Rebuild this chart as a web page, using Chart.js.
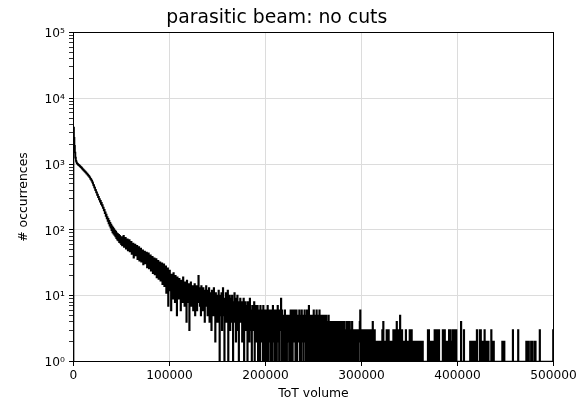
<!DOCTYPE html>
<html>
<head>
<meta charset="utf-8">
<script src="https://cdn.jsdelivr.net/npm/chart.js@4.4.1/dist/chart.umd.min.js"></script>
<style>
  html, body { margin: 0; padding: 0; background: #fff; }
  canvas { display: block; }
</style>
</head>
<body>
<canvas id="totHisto" width="582" height="403"></canvas>
<script>
// Histograma "parasitic beam: no cuts" - contagens por bin de ToT volume
// bins de 500 (0 .. 500000), lidos do gráfico em blocos de 100 bins (50000 cada)
const binWidth = 500;

const counts000k = [3600, 2500, 1900, 1500, 1250, 1120, 1060, 1030, 1010, 990,
  975, 962, 948, 933, 918, 897, 889, 866, 853, 832,
  823, 801, 797, 774, 768, 746, 744, 719, 716, 693,
  688, 661, 659, 632, 626, 598, 594, 566, 559, 534,
  515, 484, 476, 443, 438, 405, 402, 371, 372, 341,
  343, 315, 318, 290, 295, 268, 276, 249, 258, 234,
  238, 216, 219, 197, 201, 180, 185, 163, 171, 149,
  157, 137, 147, 126, 137, 116, 128, 108, 120, 99,
  113, 92, 108, 88, 103, 84, 98, 80, 94, 75,
  89, 71, 86, 69, 84, 65, 81, 64, 78, 61];
const counts050k = [78, 58, 74, 62, 81, 55, 69, 60, 76, 52,
  67, 57, 72, 49, 64, 55, 70, 47, 61, 53,
  66, 43, 58, 50, 62, 38, 55, 46, 60, 41,
  53, 44, 57, 36, 50, 42, 55, 34, 48, 40,
  52, 33, 45, 38, 49, 30, 43, 37, 47, 31,
  42, 33, 45, 27, 40, 34, 44, 26, 38, 31,
  41, 24, 36, 30, 39, 22, 35, 28, 37, 21,
  33, 26, 36, 19, 31, 25, 34, 18, 29, 24,
  32, 17, 28, 23, 31, 15, 27, 21, 30, 14,
  26, 19, 28, 11, 24, 18, 26, 7, 22, 16];
const counts100k = [24, 12, 19, 6, 21, 14, 18, 9, 22, 13,
  17, 8, 20, 12, 15, 5, 19, 11, 16, 9,
  18, 10, 14, 6, 17, 12, 15, 8, 19, 10,
  13, 7, 16, 11, 14, 4, 17, 9, 12, 8,
  15, 3, 13, 10, 16, 7, 12, 9, 14, 6,
  13, 9, 15, 5, 12, 10, 14, 6, 11, 8,
  20, 9, 13, 7, 12, 5, 14, 8, 11, 6,
  13, 8, 10, 4, 12, 7, 14, 9, 11, 5,
  12, 7, 13, 4, 10, 8, 11, 3, 12, 6,
  10, 5, 13, 7, 9, 2, 11, 6, 10, 4];
const counts150k = [9, 4, 12, 6, 0, 10, 5, 8, 11, 3,
  7, 13, 5, 9, 1, 8, 6, 11, 4, 9,
  6, 12, 0, 8, 5, 10, 3, 7, 9, 4,
  10, 6, 1, 8, 4, 11, 5, 7, 2, 9,
  6, 10, 3, 8, 0, 7, 5, 9, 4, 6,
  8, 2, 7, 5, 9, 1, 6, 4, 8, 3,
  7, 5, 0, 8, 4, 6, 2, 9, 3, 6,
  5, 1, 7, 4, 6, 3, 8, 0, 5, 7,
  2, 6, 4, 7, 1, 5, 3, 6, 0, 7,
  4, 6, 2, 5, 1, 7, 3, 0, 6, 4];
const counts200k = [6, 1, 5, 3, 7, 0, 4, 6, 2, 5,
  1, 6, 3, 5, 0, 7, 2, 4, 6, 1,
  5, 3, 6, 0, 4, 7, 2, 5, 1, 6,
  3, 5, 9, 1, 6, 2, 4, 0, 5, 3,
  6, 1, 4, 5, 0, 3, 5, 2, 4, 1,
  5, 2, 6, 0, 4, 6, 1, 5, 3, 6,
  2, 6, 1, 4, 6, 0, 3, 5, 2, 4,
  6, 1, 5, 3, 0, 6, 2, 4, 5, 1,
  4, 6, 2, 5, 1, 3, 6, 0, 4, 2,
  7, 1, 5, 3, 5, 0, 4, 2, 5, 1];
const counts250k = [6, 2, 4, 0, 5, 3, 6, 1, 4, 2,
  5, 0, 6, 3, 1, 5, 2, 4, 0, 5,
  3, 1, 4, 5, 2, 0, 5, 3, 1, 4,
  2, 5, 0, 3, 4, 1, 3, 2, 4, 0,
  3, 1, 4, 2, 0, 4, 3, 1, 2, 4,
  0, 3, 2, 4, 1, 3, 0, 4, 2, 1,
  4, 2, 3, 0, 4, 1, 3, 2, 0, 4,
  1, 3, 4, 0, 2, 4, 1, 3, 2, 0,
  4, 2, 1, 3, 0, 3, 2, 1, 3, 0,
  2, 3, 1, 0, 3, 2, 4, 6, 1, 3];
const counts300k = [1, 3, 0, 2, 3, 1, 3, 0, 2, 3,
  1, 2, 3, 0, 3, 1, 2, 3, 0, 2,
  3, 1, 2, 4, 0, 3, 1, 3, 2, 0,
  2, 1, 2, 0, 2, 1, 2, 0, 1, 2,
  0, 2, 1, 3, 0, 4, 1, 2, 0, 2,
  1, 2, 3, 0, 2, 1, 3, 0, 2, 1,
  2, 0, 2, 1, 2, 0, 3, 1, 2, 0,
  3, 1, 2, 4, 0, 3, 1, 3, 0, 2,
  5, 1, 2, 0, 3, 1, 2, 0, 2, 1,
  2, 0, 3, 1, 2, 0, 1, 2, 0, 2];
const counts350k = [3, 1, 3, 0, 3, 2, 0, 2, 1, 2,
  0, 2, 1, 2, 0, 2, 1, 2, 0, 2,
  1, 2, 0, 2, 1, 2, 0, 2, 1, 0,
  1, 0, 1, 1, 0, 1, 0, 1, 3, 1,
  3, 0, 2, 1, 2, 0, 2, 1, 2, 0,
  2, 1, 3, 0, 3, 1, 3, 0, 2, 3,
  1, 3, 0, 1, 0, 1, 1, 0, 1, 3,
  0, 3, 1, 3, 2, 0, 2, 1, 2, 0,
  2, 1, 3, 0, 3, 2, 1, 2, 0, 3,
  1, 3, 0, 3, 2, 3, 1, 3, 0, 1];
const counts400k = [1, 0, 1, 1, 0, 1, 0, 4, 1, 0,
  1, 0, 1, 3, 0, 1, 1, 0, 1, 0,
  1, 1, 0, 1, 0, 1, 2, 0, 2, 1,
  2, 0, 2, 1, 2, 0, 2, 1, 2, 0,
  3, 0, 1, 0, 1, 1, 3, 0, 3, 1,
  2, 0, 2, 1, 2, 0, 3, 1, 2, 0,
  2, 1, 2, 0, 2, 1, 0, 1, 0, 1,
  3, 2, 0, 2, 1, 2, 0, 1, 0, 1,
  1, 0, 1, 0, 1, 1, 0, 1, 0, 1,
  1, 0, 1, 2, 0, 2, 1, 2, 0, 1];
const counts450k = [0, 1, 0, 1, 1, 0, 1, 0, 1, 0,
  1, 1, 0, 1, 0, 3, 0, 1, 0, 1,
  1, 0, 1, 0, 1, 1, 3, 0, 1, 0,
  1, 0, 1, 1, 0, 1, 0, 1, 1, 0,
  1, 0, 1, 2, 0, 2, 1, 0, 2, 1,
  0, 1, 0, 2, 1, 2, 0, 1, 0, 1,
  2, 0, 2, 1, 0, 1, 0, 1, 1, 0,
  1, 3, 0, 1, 0, 1, 1, 0, 1, 0,
  1, 0, 1, 1, 0, 1, 0, 1, 1, 0,
  1, 0, 1, 0, 1, 0, 1, 0, 1, 3];

const xTicks = [0, 100000, 200000, 300000, 400000, 500000];
const yDecades = [1, 10, 100, 1000, 10000, 100000];
const yMinorSteps = [2, 3, 4, 5, 6, 7, 8, 9];
const supDigits = ['\u2070', '\u00b9', '\u00b2', '\u00b3', '\u2074', '\u2075'];

// bins vazios: no eixo log ficam abaixo do eixo (como no matplotlib), o clip corta
const emptyBinLevel = 0.1;

const allCounts = [].concat(counts000k, counts050k, counts100k, counts150k, counts200k,
  counts250k, counts300k, counts350k, counts400k, counts450k);

// histograma em degraus: sobe em x=0, cada bin vale do seu início ao próximo, desce no fim
const points = [{ x: 0, y: emptyBinLevel }];
allCounts.forEach((c, i) => points.push({ x: i * binWidth, y: c > 0 ? c : emptyBinLevel }));
points.push({ x: allCounts.length * binWidth, y: emptyBinLevel });

// ticks do eixo y: 1..9 por década, rótulo só nas potências de 10
const yTickValues = [];
yDecades.forEach((d, i) => {
  yTickValues.push(d);
  if (i < yDecades.length - 1) yMinorSteps.forEach(k => yTickValues.push(d * k));
});

const gridColor = '#dcdcdc';
const fontFamily = "'DejaVu Sans', sans-serif";

// moldura preta nos quatro lados (spines)
const framePlugin = {
  id: 'frame',
  afterDraw(chart) {
    const a = chart.chartArea, ctx = chart.ctx;
    ctx.save();
    ctx.strokeStyle = '#000';
    ctx.lineWidth = 1;
    ctx.strokeRect(a.left, a.top, a.right - a.left, a.bottom - a.top);
    ctx.restore();
  }
};

new Chart(document.getElementById('totHisto').getContext('2d'), {
  type: 'line',
  data: {
    datasets: [{
      data: points,
      borderColor: '#000',
      borderWidth: 1.7,
      stepped: true,
      pointRadius: 0,
      fill: false,
      tension: 0
    }]
  },
  options: {
    responsive: false,
    animation: false,
    events: [],
    layout: { padding: { top: 0, right: 28.5, left: 0, bottom: 0 } },
    plugins: {
      legend: { display: false },
      tooltip: { enabled: false },
      title: {
        display: true,
        text: 'parasitic beam: no cuts',
        color: '#000',
        font: { family: fontFamily, size: 18.8, weight: 'normal' },
        padding: { top: 6.4, bottom: 3.54 }
      }
    },
    scales: {
      x: {
        type: 'linear',
        min: 0,
        max: 500000,
        afterBuildTicks: s => { s.ticks = xTicks.map(v => ({ value: v })); },
        afterFit: s => { s.height = 41.5; },
        ticks: {
          callback: v => String(v),
          color: '#000',
          font: { family: fontFamily, size: 12.2 },
          padding: 3,
          maxRotation: 0,
          autoSkip: false
        },
        grid: { color: gridColor, lineWidth: 1, tickColor: '#000', tickLength: 4.5 },
        border: { display: false },
        title: {
          display: true,
          text: 'ToT volume',
          color: '#000',
          font: { family: fontFamily, size: 12.4 },
          padding: { top: 0, bottom: 2 }
        }
      },
      y: {
        type: 'logarithmic',
        min: 1,
        max: 100000,
        afterBuildTicks: s => {
          s.ticks = yTickValues.map(v => ({ value: v, major: yDecades.includes(v) }));
        },
        afterFit: s => { s.width = 73.5; },
        ticks: {
          callback: v => {
            const e = yDecades.indexOf(v);
            return e >= 0 ? '10' + supDigits[e] : '';
          },
          color: '#000',
          font: { family: fontFamily, size: 12.2 },
          padding: 4,
          labelOffset: 1.5,
          autoSkip: false
        },
        grid: {
          color: c => (c.tick && yDecades.includes(c.tick.value)) ? gridColor : 'rgba(0,0,0,0)',
          lineWidth: 1,
          tickColor: '#000',
          tickWidth: c => (c.tick && yDecades.includes(c.tick.value)) ? 1 : 0.8,
          tickLength: 4.5
        },
        border: { display: false },
        title: {
          display: true,
          text: '# occurrences',
          color: '#000',
          font: { family: fontFamily, size: 12.4 },
          padding: { top: 16, bottom: 0 }
        }
      }
    }
  },
  plugins: [framePlugin]
});
</script>
</body>
</html>
